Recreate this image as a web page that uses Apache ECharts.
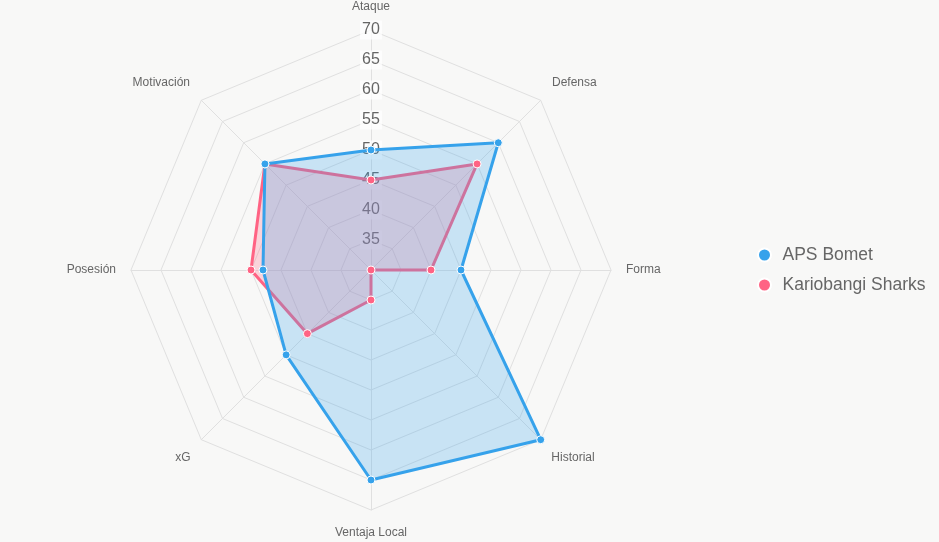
<!DOCTYPE html>
<html>
<head>
<meta charset="utf-8">
<script src="https://cdn.jsdelivr.net/npm/echarts@6/dist/echarts.min.js"></script>
<style>
  html, body { margin: 0; padding: 0; background: #f8f8f7; }
  #chart { width: 939px; height: 542px; }
</style>
</head>
<body>
<div id="chart"></div>
<script>
// ejes del radar (en el orden de ECharts: empieza arriba y gira a la izquierda)
var indicadores = ['Ataque', 'Motivación', 'Posesión', 'xG', 'Ventaja Local', 'Historial', 'Forma', 'Defensa'];
var equipos = ['APS Bomet', 'Kariobangi Sharks'];
var apsBomet = [50, 55, 48, 50, 65, 70, 45, 60];
var kariobangi = [45, 55, 50, 45, 35, 30, 40, 55];
var escalaMin = 30;
var escalaMax = 70;

var FONT = 'Liberation Sans, Arial, sans-serif';
var chart = echarts.init(document.getElementById('chart'));

// separacion de los nombres como en chart.js (diagonales algo mas lejos)
var gaps = [17, 16, 15, 15, 17, 15, 15, 16];
var estilo = ['n', 'arriba', 'n', 'abajo', 'n', 'abajo', 'n', 'arriba'];

var indicator = indicadores.map(function (n, i) {
    var ind = { name: n, min: escalaMin, max: escalaMax, nameGap: gaps[i] };
    if (i === 0) {
        // solo el eje de arriba lleva las marcas 35..70
        ind.axisLabel = {
            show: true,
            showMinLabel: false,
            color: '#666',
            fontSize: 16,
            fontFamily: FONT,
            align: 'center',
            margin: 0,
            backgroundColor: 'rgba(255,255,255,0.75)',
            padding: [2, 2, 1, 2]
        };
    }
    return ind;
});

chart.setOption({
    backgroundColor: '#f8f8f7',
    legend: {
        orient: 'vertical',
        left: 752,
        top: 241,
        icon: 'circle',
        itemWidth: 26,
        itemHeight: 13,
        itemGap: 12,
        data: equipos,
        textStyle: { color: '#666', fontSize: 17.5, lineHeight: 18, fontFamily: FONT }
    },
    radar: {
        center: [371, 270],
        radius: 240,
        startAngle: 90,
        splitNumber: 8,
        shape: 'polygon',
        indicator: indicator,
        nameGap: 15,
        axisName: {
            color: '#666', fontSize: 12, fontFamily: FONT,
            formatter: function (value) {
                var k = estilo[indicadores.indexOf(value)];
                return '{' + k + '|' + value + '}';
            },
            rich: {
                n: { color: '#666', fontSize: 12, fontFamily: FONT },
                arriba: { color: '#666', fontSize: 12, fontFamily: FONT, padding: [0, 0, 12, 0] },
                abajo: { color: '#666', fontSize: 12, fontFamily: FONT, padding: [14, 0, 0, 0] }
            }
        },
        axisLine: { lineStyle: { color: '#e0e0e0', width: 1 } },
        splitLine: { lineStyle: { color: '#e0e0e0', width: 1 } },
        splitArea: { show: false },
        axisLabel: { show: false },
        axisTick: { show: false }
    },
    series: [
        {
            name: 'Kariobangi Sharks',
            type: 'radar',
            symbol: 'circle',
            symbolSize: 8,
            data: [{ value: kariobangi, name: 'Kariobangi Sharks' }],
            itemStyle: { color: '#FF6384', borderColor: '#fff', borderWidth: 1 },
            lineStyle: { color: '#FF6384', width: 3 },
            areaStyle: { color: 'rgba(255,99,132,0.25)', opacity: 1 }
        },
        {
            name: 'APS Bomet',
            type: 'radar',
            symbol: 'circle',
            symbolSize: 8,
            data: [{ value: apsBomet, name: 'APS Bomet' }],
            itemStyle: { color: '#36A2EB', borderColor: '#fff', borderWidth: 1 },
            lineStyle: { color: '#36A2EB', width: 3 },
            areaStyle: { color: 'rgba(54,162,235,0.25)', opacity: 1 }
        }
    ]
});
</script>
</body>
</html>
